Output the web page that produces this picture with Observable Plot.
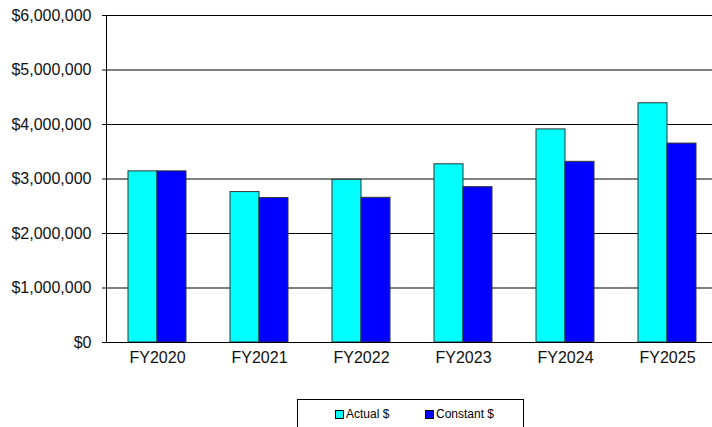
<!DOCTYPE html>
<html>
<head>
<meta charset="utf-8">
<script src="https://cdn.jsdelivr.net/npm/d3@7"></script>
<script src="https://cdn.jsdelivr.net/npm/@observablehq/plot@0.6"></script>
<style>
  html, body { margin: 0; padding: 0; background: #fff; overflow: hidden; }
  body { font-family: "Liberation Sans", Arial, sans-serif; width: 712px; height: 427px; position: relative; }
  #legend {
    position: absolute; left: 297px; top: 399px; width: 227px; height: 34px;
    border: 1px solid #000; box-sizing: border-box; background: #fff;
    font-size: 12px; color: #000;
  }
  .item { position: absolute; top: 7px; display: flex; align-items: center; }
  .sw { width: 7px; height: 7px; border: 1px solid #000; margin-right: 2px; }
</style>
</head>
<body>
<div id="chart"></div>
<div id="legend"></div>
<script>
const years = ["FY2020", "FY2021", "FY2022", "FY2023", "FY2024", "FY2025"];
const actual = [3140000, 2760000, 2985000, 3270000, 3910000, 4390000];
const constant = [3140000, 2650000, 2655000, 2850000, 3315000, 3650000];
const seriesNames = ["Actual $", "Constant $"];
const seriesColors = ["#00FFFF", "#0000FF"];
const yTicks = [0, 1000000, 2000000, 3000000, 4000000, 5000000, 6000000];

const actualData = years.map((y, i) => ({year: y, value: actual[i]}));
const constantData = years.map((y, i) => ({year: y, value: constant[i]}));

const plot = Plot.plot({
  width: 712,
  height: 380,
  marginLeft: 106,
  marginRight: -7,
  marginTop: 15,
  marginBottom: 38,
  style: {fontFamily: "Liberation Sans, Arial, sans-serif", fontSize: "16px", color: "#111", background: "#fff"},
  x: {domain: years, paddingInner: 0.431, paddingOuter: 0.2155, align: 0.5, label: null},
  y: {domain: [0, 6000000], label: null},
  marks: [
    Plot.ruleY(yTicks, {stroke: "#000", strokeWidth: 1}),
    Plot.barY(actualData, {x: "year", y: "value", fill: seriesColors[0], stroke: "#333", strokeWidth: 1, insetRight: 29}),
    Plot.barY(constantData, {x: "year", y: "value", fill: seriesColors[1], stroke: "#333", strokeWidth: 1, insetLeft: 29}),
    Plot.frame({anchor: "left", stroke: "#000"}),
    Plot.ruleY([0], {stroke: "#000"}),
    Plot.axisY({ticks: yTicks, tickFormat: d3.format("$,"), tickSize: 4, tickPadding: 11, fontSize: 16}),
    Plot.axisX({tickSize: 0, tickPadding: 9, fontSize: 16})
  ]
});
document.getElementById("chart").appendChild(plot);

const legend = document.getElementById("legend");
const lefts = [37, 127];
seriesNames.forEach((name, i) => {
  const it = document.createElement("div");
  it.className = "item";
  it.style.left = lefts[i] + "px";
  const sw = document.createElement("div");
  sw.className = "sw";
  sw.style.background = seriesColors[i];
  const t = document.createElement("span");
  t.textContent = name;
  it.appendChild(sw); it.appendChild(t);
  legend.appendChild(it);
});
</script>
</body>
</html>
